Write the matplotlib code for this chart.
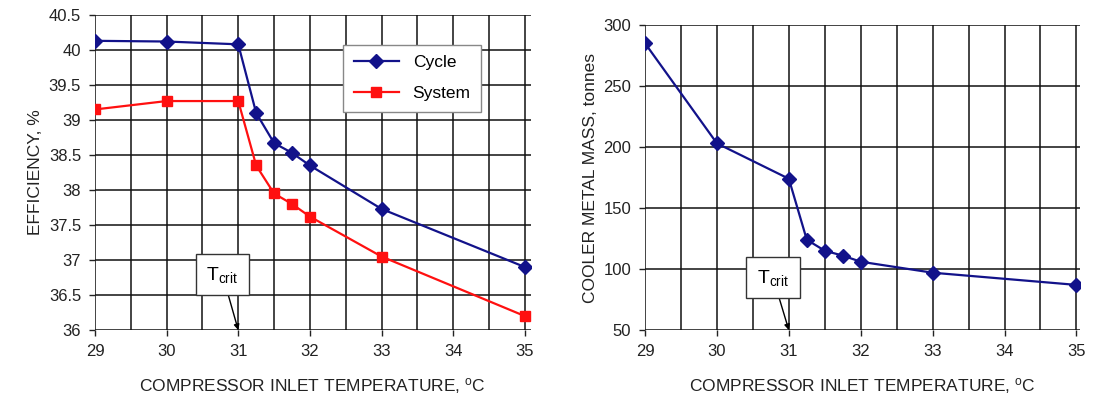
import matplotlib.pyplot as plt

plt.rcParams['font.family'] = ['Liberation Sans', 'DejaVu Sans']
plt.rcParams['mathtext.fontset'] = 'custom'
plt.rcParams['mathtext.rm'] = 'Liberation Sans'
plt.rcParams['mathtext.it'] = 'Liberation Sans:italic'

# compressor inlet temperature, degC
temp = [29, 30, 31, 31.25, 31.5, 31.75, 32, 33, 35]
# efficiency, %
cycle_eff = [40.13, 40.12, 40.08, 39.1, 38.67, 38.53, 38.35, 37.73, 36.9]
system_eff = [39.15, 39.27, 39.27, 38.35, 37.95, 37.8, 37.62, 37.05, 36.2]
# cooler metal mass, tonnes
cooler_mass = [285, 203, 174, 124, 115, 111, 106, 97, 87]

x_ticks = [29, 30, 31, 32, 33, 34, 35]
eff_ticks = [36, 36.5, 37, 37.5, 38, 38.5, 39, 39.5, 40, 40.5]
eff_labels = ['36', '36.5', '37', '37.5', '38', '38.5', '39', '39.5', '40', '40.5']
mass_ticks = [50, 100, 150, 200, 250, 300]

blue = '#12128a'
red = '#ff1010'
xlabel = r'COMPRESSOR INLET TEMPERATURE, $^{\mathrm{o}}$C'


def style_axes(ax):
    for s in ax.spines.values():
        s.set_visible(False)
    ax.set_xticks(x_ticks)
    ax.set_xticks([29.5 + i for i in range(6)], minor=True)
    ax.grid(True, which='both', color='#111111', linewidth=1.1)
    ax.tick_params(which='minor', length=0)
    ax.tick_params(which='major', length=4, width=1, labelsize=12, colors='#222222', pad=6)
    ax.set_axisbelow(True)


def tcrit_box(ax, xy, xytext):
    ax.annotate(r'T$_{\mathrm{crit}}$', xy=xy, xytext=xytext, fontsize=14,
                ha='center', va='center',
                bbox=dict(boxstyle='square,pad=0.55', fc='white', ec='#333333', lw=1),
                arrowprops=dict(arrowstyle='-|>', color='black', lw=1, mutation_scale=8,
                                shrinkA=0, shrinkB=0))


def main():
    fig = plt.figure(figsize=(10.97, 4.03), dpi=100)

    # left: efficiency
    ax1 = fig.add_axes([0.0866, 0.181, 0.397, 0.782])
    style_axes(ax1)
    ax1.plot(temp, cycle_eff, color=blue, marker='D', markersize=7, lw=1.6, label='Cycle')
    ax1.plot(temp, system_eff, color=red, marker='s', markersize=6.5, lw=1.6, label='System')
    ax1.set_xlim(29, 35.08)
    ax1.set_ylim(36, 40.5)
    ax1.set_yticks(eff_ticks)
    ax1.set_yticklabels(eff_labels)
    ax1.set_ylabel('EFFICIENCY, %', fontsize=12.5, color='#222222')
    ax1.set_xlabel(xlabel, fontsize=12.5, color='#222222', labelpad=12)
    leg = ax1.legend(loc='upper left', bbox_to_anchor=(0.57, 0.905), borderaxespad=0,
                     fontsize=12.5, fancybox=False, edgecolor='#888888', framealpha=1,
                     handlelength=2.6, borderpad=0.6, labelspacing=0.9)
    leg.get_frame().set_linewidth(1)
    tcrit_box(ax1, (31, 36), (30.78, 36.79))

    # right: cooler metal mass
    ax2 = fig.add_axes([0.588, 0.181, 0.3965, 0.757])
    style_axes(ax2)
    ax2.plot(temp, cooler_mass, color=blue, marker='D', markersize=7, lw=1.6)
    ax2.set_xlim(29, 35.05)
    ax2.set_ylim(50, 300)
    ax2.set_yticks(mass_ticks)
    ax2.set_ylabel('COOLER METAL MASS, tonnes', fontsize=12.5, color='#222222')
    ax2.set_xlabel(xlabel, fontsize=12.5, color='#222222', labelpad=12)
    tcrit_box(ax2, (31, 50), (30.78, 93))

    fig.savefig('out.png', dpi=100)


if __name__ == "__main__":
    main()
